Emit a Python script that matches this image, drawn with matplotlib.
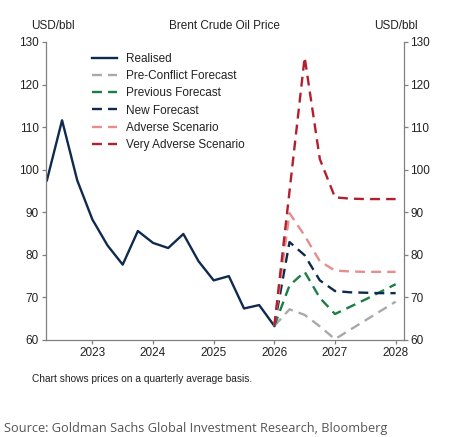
import numpy as np
import matplotlib.pyplot as plt

plt.rcParams['font.family'] = ['Liberation Sans', 'DejaVu Sans']

# quarterly realised prices
realised_x = [2022.25, 2022.5, 2022.75, 2023.0, 2023.25, 2023.5, 2023.75, 2024.0,
              2024.25, 2024.5, 2024.75, 2025.0, 2025.25, 2025.5, 2025.75, 2026.0]
realised = [97.5, 111.6, 97.5, 88.3, 82.2, 77.7, 85.6, 82.8,
            81.6, 84.9, 78.5, 74.0, 75.0, 67.4, 68.2, 63.3]

fc_x = [2026.0, 2026.25, 2026.5, 2026.75, 2027.0, 2027.25, 2027.5, 2027.75, 2028.0]
pre_conflict = [63.3, 67.2, 65.9, 63.2, 60.2, 62.4, 64.6, 66.8, 69.0]
previous = [63.3, 72.8, 76.0, 69.9, 66.1, 67.8, 69.5, 71.3, 73.1]
new_fc = [63.3, 83.0, 79.9, 74.0, 71.5, 71.2, 71.1, 71.0, 71.0]
adverse = [63.3, 89.8, 84.5, 78.5, 76.3, 76.1, 76.0, 76.0, 76.0]
very_adverse = [63.3, 94.9, 126.4, 102.5, 93.5, 93.2, 93.1, 93.1, 93.1]

fig = plt.figure(figsize=(4.5, 4.37), dpi=100)
ax = fig.add_axes([0.1022, 0.222, 0.7945, 0.682])

dash = (4.2, 2.6)
ax.plot(realised_x, realised, color='#0e2a4f', lw=1.7, label='Realised')
ax.plot(fc_x, pre_conflict, color='#a9a9a9', lw=1.7, dashes=dash, label='Pre-Conflict Forecast')
ax.plot(fc_x, previous, color='#1b7f45', lw=1.7, dashes=dash, label='Previous Forecast')
ax.plot(fc_x, new_fc, color='#0e2a4f', lw=1.7, dashes=dash, label='New Forecast')
ax.plot(fc_x, adverse, color='#e88c8c', lw=1.7, dashes=dash, label='Adverse Scenario')
ax.plot(fc_x, very_adverse, color='#b2202e', lw=1.7, dashes=dash, label='Very Adverse Scenario')

ax.set_xlim(2022.235, 2028.13)
ax.set_ylim(60, 130)
ax.set_xticks([2023, 2024, 2025, 2026, 2027, 2028])
ax.set_yticks(np.arange(60, 131, 10))

ax.spines['top'].set_visible(False)
for s in ['left', 'right', 'bottom']:
    ax.spines[s].set_color('#808080')
    ax.spines[s].set_linewidth(0.9)
ax.tick_params(axis='both', colors='#808080', labelcolor='#222222', labelsize=8.5,
               length=3, width=0.9, pad=2)
ax.tick_params(axis='y', right=True, labelright=True)

ax.text(-0.042, 1.055, 'USD/bbl', transform=ax.transAxes, fontsize=8.5, color='#222222',
        ha='left', va='center')
ax.text(1.04, 1.055, 'USD/bbl', transform=ax.transAxes, fontsize=8.5, color='#222222',
        ha='right', va='center')
ax.text(0.5, 1.055, 'Brent Crude Oil Price', transform=ax.transAxes, fontsize=8.5,
        color='#222222', ha='center', va='center')

leg = ax.legend(loc='upper left', bbox_to_anchor=(0.116, 0.979), frameon=False,
                fontsize=8.5, handlelength=2.1, handletextpad=0.75, labelspacing=0.44,
                borderaxespad=0)
for t in leg.get_texts():
    t.set_color('#222222')

fig.text(0.071, 0.133, 'Chart shows prices on a quarterly average basis.', fontsize=7.3,
         color='#222222', va='center')
fig.text(0.008, 0.004, 'Source: Goldman Sachs Global Investment Research, Bloomberg',
         family='Open Sans', fontsize=9.2, color='#555555', va='bottom')

fig.savefig('out.png', dpi=100)
